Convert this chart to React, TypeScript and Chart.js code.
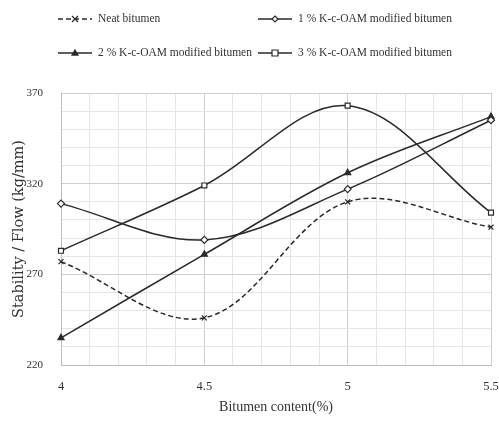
import React, { useEffect, useRef } from "react";
import { Chart, registerables } from "chart.js";

Chart.register(...registerables);

const bitumenContent = [4, 4.5, 5, 5.5];
const neatBitumen = [277, 246, 310, 296];
const kOam1 = [309, 289, 317, 355];
const kOam2 = [235, 281, 326, 357];
const kOam3 = [283, 319, 363, 304];
const seriesLabels = [
  "Neat bitumen",
  "1 % K-c-OAM modified bitumen",
  "2 % K-c-OAM modified bitumen",
  "3 % K-c-OAM modified bitumen",
];
const yTitle = "Stability / Flow (kg/mm)";
const xTitle = "Bitumen content(%)";

const LINE = "#2a2a2a";

function drawMarker(ctx: CanvasRenderingContext2D, style: string, x: number, y: number, r: number) {
  ctx.save();
  ctx.beginPath();
  ctx.fillStyle = "#ffffff";
  ctx.strokeStyle = LINE;
  ctx.lineWidth = 1.2;
  ctx.setLineDash([]);
  if (style === "crossRot") {
    ctx.moveTo(x - r, y - r);
    ctx.lineTo(x + r, y + r);
    ctx.moveTo(x + r, y - r);
    ctx.lineTo(x - r, y + r);
    ctx.stroke();
  } else if (style === "rectRot") {
    ctx.moveTo(x, y - r);
    ctx.lineTo(x + r, y);
    ctx.lineTo(x, y + r);
    ctx.lineTo(x - r, y);
    ctx.closePath();
    ctx.fill();
    ctx.stroke();
  } else if (style === "triangle") {
    ctx.moveTo(x, y - r);
    ctx.lineTo(x + r, y + r * 0.7);
    ctx.lineTo(x - r, y + r * 0.7);
    ctx.closePath();
    ctx.fillStyle = LINE;
    ctx.fill();
    ctx.stroke();
  } else {
    ctx.rect(x - r, y - r, 2 * r, 2 * r);
    ctx.fill();
    ctx.stroke();
  }
  ctx.restore();
}

const legendPlugin = {
  id: "twoColLegend",
  afterDraw(chart: any) {
    const ctx: CanvasRenderingContext2D = chart.ctx;
    const items = chart.data.datasets.map((d: any) => ({
      label: d.label,
      dash: d.borderDash || [],
      style: d.pointStyle,
    }));
    const cols = [58, 258];
    const rows = [19, 53];
    items.forEach((it: any, i: number) => {
      const x0 = cols[i % 2];
      const y = rows[Math.floor(i / 2)];
      ctx.save();
      ctx.strokeStyle = LINE;
      ctx.lineWidth = 1.5;
      ctx.setLineDash(it.dash);
      ctx.beginPath();
      ctx.moveTo(x0, y);
      ctx.lineTo(x0 + 34, y);
      ctx.stroke();
      ctx.restore();
      drawMarker(ctx, it.style, x0 + 17, y, 3);
      ctx.save();
      ctx.fillStyle = "#333";
      ctx.font = "11.5px 'Liberation Serif'";
      ctx.textBaseline = "middle";
      ctx.textAlign = "left";
      ctx.fillText(it.label, x0 + 40, y);
      ctx.restore();
    });
  },
};

const isMajorX = (n: number) => Math.abs(n * 2 - Math.round(n * 2)) < 1e-6;
const isMajorY = (n: number) => Math.abs((n - 220) % 50) < 1e-6;

export default function App() {
  const ref = useRef<HTMLCanvasElement>(null);
  useEffect(() => {
    if (!ref.current) return;
    const mk = (label: string, data: number[], style: string, dash: number[]) => ({
      label,
      data: bitumenContent.map((x, i) => ({ x, y: data[i] })),
      borderColor: LINE,
      backgroundColor: "#ffffff",
      borderWidth: 1.5,
      borderDash: dash,
      pointStyle: style,
      pointRadius: 3.5,
      pointBorderColor: LINE,
      pointBackgroundColor: style === "triangle" ? LINE : "#ffffff",
      pointBorderWidth: 1.2,
      tension: 0.35,
      clip: false as any,
    });
    const chart = new Chart(ref.current, {
      type: "line",
      data: {
        datasets: [
          mk(seriesLabels[0], neatBitumen, "crossRot", [5, 3]),
          mk(seriesLabels[1], kOam1, "rectRot", []),
          mk(seriesLabels[2], kOam2, "triangle", []),
          mk(seriesLabels[3], kOam3, "rect", []),
        ],
      },
      options: {
        animation: false,
        responsive: false,
        layout: { padding: { top: 93, right: 8, left: 0, bottom: 0 } },
        plugins: {
          legend: { display: false },
          tooltip: { enabled: false },
        },
        scales: {
          x: {
            type: "linear",
            min: 4,
            max: 5.5,
            afterFit: (s: any) => {
              s.height = 70;
              s.paddingRight = 0;
              s.paddingLeft = 0;
            },
            ticks: {
              stepSize: 0.1,
              autoSkip: false,
              maxRotation: 0,
              padding: 14,
              color: "#333",
              font: { family: "'Liberation Serif'", size: 12.5 },
              callback: (v: any) => {
                const n = Number(v);
                return isMajorX(n) ? String(Math.round(n * 10) / 10) : "";
              },
            },
            grid: {
              drawTicks: false,
              color: (c: any) => (c.tick && isMajorX(c.tick.value) ? "#cfcfcf" : "#e6e6e6"),
            },
            border: { color: "#bdbdbd" },
            title: {
              display: true,
              text: xTitle,
              color: "#333",
              font: { family: "'Liberation Serif'", size: 14 },
              padding: { top: 0, bottom: 19 },
            },
          },
          y: {
            min: 220,
            max: 370,
            afterFit: (s: any) => {
              s.width = 61;
            },
            ticks: {
              stepSize: 10,
              padding: 18,
              color: "#333",
              font: { family: "'Liberation Serif'", size: 11 },
              callback: (v: any) => (isMajorY(Number(v)) ? String(v) : ""),
            },
            grid: {
              drawTicks: false,
              color: (c: any) => (c.tick && isMajorY(c.tick.value) ? "#cfcfcf" : "#e6e6e6"),
            },
            border: { color: "#bdbdbd" },
            title: {
              display: true,
              text: yTitle,
              color: "#333",
              font: { family: "'DejaVu Serif'", size: 14.5 },
              padding: { top: 11, bottom: 0 },
            },
          },
        },
      },
      plugins: [legendPlugin],
    });
    return () => chart.destroy();
  }, []);
  return (
    <div style={{ position: "fixed", left: 0, top: 0, width: 499, height: 435, background: "#fff" }}>
      <canvas ref={ref} width={499} height={435} />
    </div>
  );
}
